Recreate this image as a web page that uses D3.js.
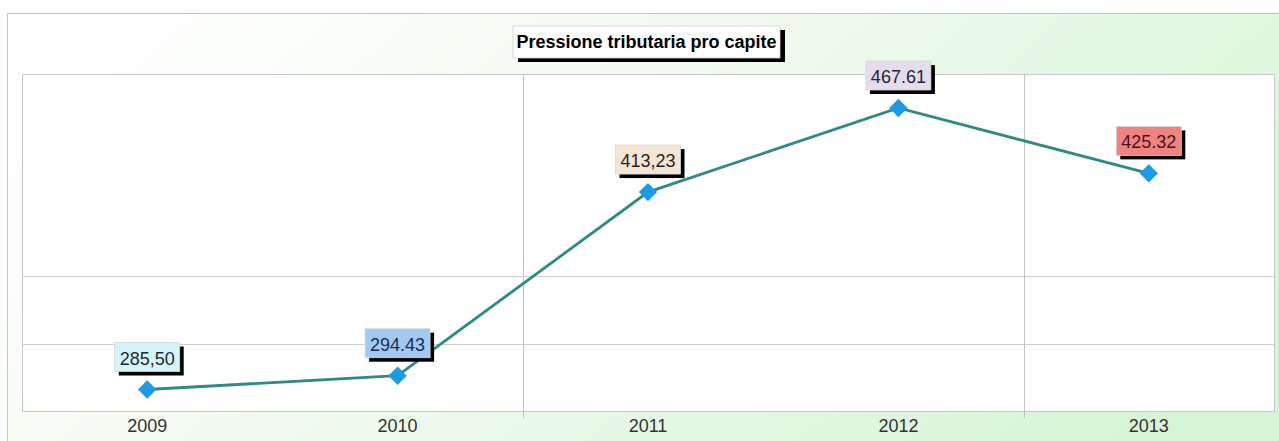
<!DOCTYPE html>
<html>
<head>
<meta charset="utf-8">
<script src="https://cdn.jsdelivr.net/npm/d3@7"></script>
<style>
  html, body { margin: 0; padding: 0; background: #ffffff; }
  svg { display: block; font-family: "Liberation Sans", Arial, sans-serif; }
</style>
</head>
<body>
<svg id="chart" width="1279" height="441"></svg>
<script>
// ---- data ----
const titleText = "Pressione tributaria pro capite";
const categories = ["2009", "2010", "2011", "2012", "2013"];
const values = [285.50, 294.43, 413.23, 467.61, 425.32];
const valueLabels = ["285,50", "294.43", "413,23", "467.61", "425.32"];
const labelFills = ["#d6f5f8", "#a2c9ef", "#f4e5d5", "#e5dcee", "#f08282"];
const labelInk = ["#1e2a2e", "#1c2b5c", "#2a2320", "#2a2530", "#4a1414"];
const yDomain = [271.6, 489.6];
const gridValues = [315.2, 358.8];
const verticalGridAfter = ["2010", "2012"];

// ---- layout ----
const W = 1279, H = 441;
const plot = { left: 22, top: 74, right: 1274, bottom: 411 };

const svg = d3.select("#chart");

const defs = svg.append("defs");
const grad = defs.append("linearGradient").attr("id", "bg")
  .attr("x1", "0").attr("y1", "0.2").attr("x2", "1").attr("y2", "0.6");
grad.append("stop").attr("offset", "0").attr("stop-color", "#ffffff");
grad.append("stop").attr("offset", "0.35").attr("stop-color", "#f4fbf2");
grad.append("stop").attr("offset", "1").attr("stop-color", "#d6f5d6");

// outer frame
svg.append("rect")
  .attr("x", 7.5).attr("y", 13.5)
  .attr("width", W + 20).attr("height", H + 20)
  .attr("fill", "url(#bg)")
  .attr("stroke", "#c4c4c4").attr("stroke-width", 1);

// scales
const x = d3.scaleBand().domain(categories).range([plot.left, plot.right]).padding(0);
const y = d3.scaleLinear().domain(yDomain).range([plot.bottom, plot.top]);
const cx = d => x(d) + x.bandwidth() / 2;

// plot area
svg.append("rect")
  .attr("x", plot.left + 0.5).attr("y", plot.top + 0.5)
  .attr("width", plot.right - plot.left).attr("height", plot.bottom - plot.top)
  .attr("fill", "#ffffff")
  .attr("stroke", "#c8c8c8").attr("stroke-width", 1);

// horizontal grid
svg.append("g").selectAll("line").data(gridValues).join("line")
  .attr("x1", plot.left).attr("x2", plot.right)
  .attr("y1", d => Math.round(y(d)) + 0.5).attr("y2", d => Math.round(y(d)) + 0.5)
  .attr("stroke", "#cfcfcf").attr("stroke-width", 1.2);

// vertical grid (band boundaries)
svg.append("g").selectAll("line").data(verticalGridAfter).join("line")
  .attr("x1", d => Math.round(x(d) + x.bandwidth()) + 0.5)
  .attr("x2", d => Math.round(x(d) + x.bandwidth()) + 0.5)
  .attr("y1", plot.top).attr("y2", plot.bottom + 7)
  .attr("stroke", "#c4c4c4").attr("stroke-width", 1);

// x axis labels
const xAxis = d3.axisBottom(x).tickSize(0).tickPadding(8);
const gx = svg.append("g").attr("transform", `translate(0,${plot.bottom})`).call(xAxis);
gx.select(".domain").remove();
gx.selectAll("text")
  .attr("font-family", "'Liberation Sans', Arial, sans-serif")
  .attr("font-size", 18)
  .attr("fill", "#333333");

// line
const line = d3.line().x((d, i) => cx(categories[i])).y(d => y(d));
svg.append("path").datum(values)
  .attr("d", line)
  .attr("fill", "none")
  .attr("stroke", "#2f8a84")
  .attr("stroke-width", 2.8);

// markers (diamonds)
const diamond = d3.symbol().type(d3.symbolDiamond2).size(215);
svg.append("g").selectAll("path").data(values).join("path")
  .attr("d", diamond)
  .attr("transform", (d, i) => `translate(${cx(categories[i])},${y(d)})`)
  .attr("fill", "#1b9ce2");

// value labels with drop shadow
const bw = 65, bh = 29, gap = 18, sh = 4;
const lab = svg.append("g").selectAll("g").data(values).join("g")
  .attr("transform", (d, i) => `translate(${cx(categories[i]) - bw / 2},${y(d) - gap - bh})`);
lab.append("rect")
  .attr("x", sh).attr("y", sh).attr("width", bw).attr("height", bh)
  .attr("fill", "#000000");
lab.append("rect")
  .attr("x", 0).attr("y", 0).attr("width", bw).attr("height", bh)
  .attr("fill", (d, i) => labelFills[i])
  .attr("stroke", "#d8d8d8").attr("stroke-width", 0.8);
lab.append("text")
  .attr("x", bw / 2).attr("y", bh - 7)
  .attr("text-anchor", "middle")
  .attr("font-size", 18)
  .attr("fill", (d, i) => labelInk[i])
  .text((d, i) => valueLabels[i]);

// title box
const tb = { x: 513, y: 26, w: 267, h: 32 };
svg.append("rect").attr("x", tb.x + 5).attr("y", tb.y + 4)
  .attr("width", tb.w).attr("height", tb.h).attr("fill", "#000000");
svg.append("rect").attr("x", tb.x).attr("y", tb.y)
  .attr("width", tb.w).attr("height", tb.h)
  .attr("fill", "#fdfefd").attr("stroke", "#d0d0d0").attr("stroke-width", 0.8);
svg.append("text")
  .attr("x", tb.x + tb.w / 2).attr("y", tb.y + 22)
  .attr("text-anchor", "middle")
  .attr("font-size", 18).attr("font-weight", "bold")
  .attr("fill", "#000000")
  .text(titleText);
</script>
</body>
</html>
